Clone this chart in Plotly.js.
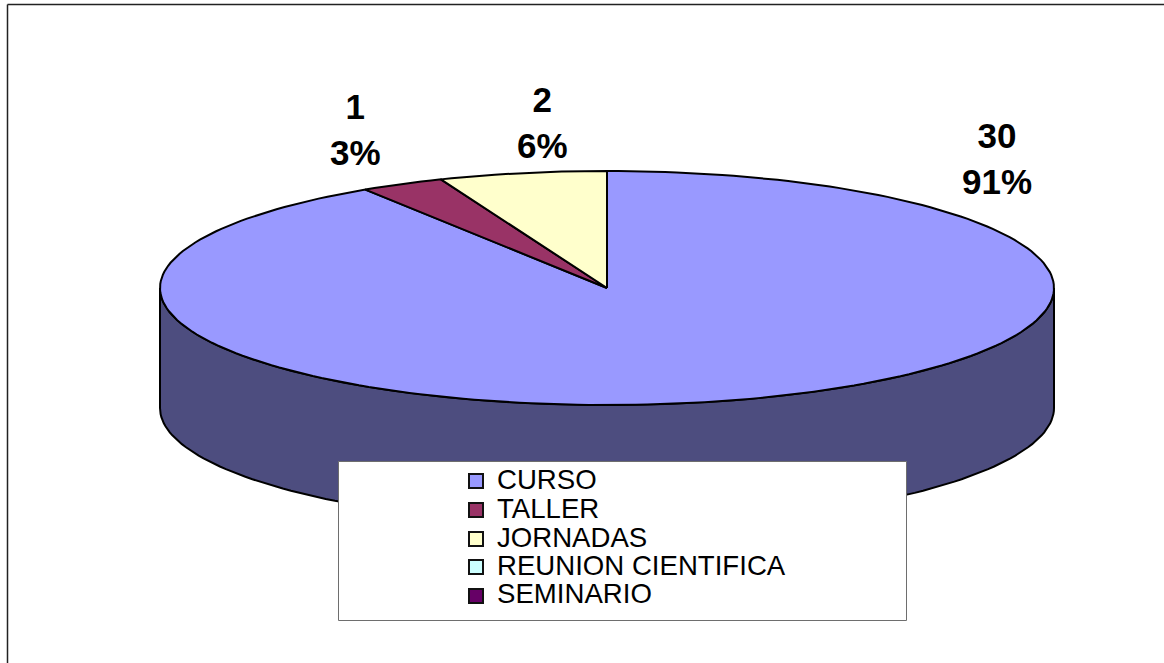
<!DOCTYPE html>
<html>
<head>
<meta charset="utf-8">
<script src="https://cdn.plot.ly/plotly-3.0.1.min.js"></script>
<style>html,body{margin:0;padding:0;background:#fff;overflow:hidden}#chart{width:1164px;height:663px}</style>
</head>
<body>
<div id="chart"></div>
<script>
// Data
const categories = ["CURSO", "TALLER", "JORNADAS", "REUNION CIENTIFICA", "SEMINARIO"];
const values = [30, 1, 2, 0, 0];
const colors = ["#9999FF", "#993366", "#FFFFCC", "#CCFFFF", "#660066"];
const sideColor = "#4D4D7F";

// Geometry of the tilted pie, in pixels of the 1164x663 axes
const cx = 607, cy = 288, rx = 447, ry = 117, depth = 120;
const total = values.reduce((a, b) => a + b, 0);
const pt = (deg, dy = 0) => {
  const a = deg * Math.PI / 180;
  return [cx + rx * Math.sin(a), cy + dy - ry * Math.cos(a)];
};
function arc(from, to, dy = 0) {
  const n = Math.max(2, Math.ceil(Math.abs(to - from) / 1.5));
  const out = [];
  for (let i = 0; i <= n; i++) out.push(pt(from + (to - from) * i / n, dy));
  return out;
}
const blackLine = {color: "#000000", width: 2};
const traces = [];

// Visible wall of the cylinder: front half of the rim
const wall = arc(90, 270).concat(arc(270, 90, depth));
wall.push(wall[0]);
traces.push({
  type: "scatter", mode: "lines", fill: "toself", fillcolor: sideColor,
  x: wall.map(p => p[0]), y: wall.map(p => p[1]),
  line: blackLine, hoverinfo: "skip", showlegend: false
});

// Top-face slices, clockwise from 12 o'clock
let cum = 0;
values.forEach((v, i) => {
  if (v <= 0) return;
  const a0 = cum / total * 360, a1 = (cum + v) / total * 360;
  cum += v;
  const poly = [[cx, cy]].concat(arc(a0, a1), [[cx, cy]]);
  traces.push({
    type: "scatter", mode: "lines", fill: "toself", fillcolor: colors[i],
    x: poly.map(p => p[0]), y: poly.map(p => p[1]),
    line: blackLine, name: categories[i], showlegend: false,
    hovertemplate: categories[i] + ": " + v + "<extra></extra>"
  });
});

// Legend box and its swatches
const box = {x0: 338.5, x1: 906.5, y0: 461.5, y1: 620.5};
traces.push({
  type: "scatter", mode: "lines", fill: "toself", fillcolor: "#FFFFFF",
  x: [box.x0, box.x1, box.x1, box.x0, box.x0],
  y: [box.y0, box.y0, box.y1, box.y1, box.y0],
  line: {color: "#6E6E6E", width: 1}, hoverinfo: "skip", showlegend: false
});
const rowY = [481, 510, 539, 567, 596];
const legendTextY = [479, 508, 537, 565, 593];
const annotations = [];
categories.forEach((c, i) => {
  traces.push({
    type: "scatter", mode: "markers", x: [476], y: [rowY[i]], name: c, showlegend: false,
    marker: {symbol: "square", size: 14, color: colors[i], line: {color: "#111111", width: 2}},
    hoverinfo: "name"
  });
  annotations.push({
    x: 495, y: legendTextY[i], xref: "x", yref: "y", text: c, showarrow: false,
    xanchor: "left", yanchor: "middle",
    font: {family: "Liberation Sans, Arial, sans-serif", size: 27.6, color: "#000000"}
  });
});

// Data labels
const labelPos = [[997, 158], [355, 129], [542, 122]];
values.forEach((v, i) => {
  if (v <= 0) return;
  annotations.push({
    x: labelPos[i][0], y: labelPos[i][1], xref: "x", yref: "y", showarrow: false,
    text: "<b>" + v + "<br>" + Math.round(v / total * 100) + "%</b>",
    xanchor: "center", yanchor: "middle", align: "center",
    font: {family: "Liberation Sans, Arial, sans-serif", size: 35, color: "#000000"}
  });
});

const layout = {
  width: 1164, height: 663,
  margin: {l: 0, r: 0, t: 0, b: 0, pad: 0},
  paper_bgcolor: "#FFFFFF", plot_bgcolor: "#FFFFFF",
  showlegend: false,
  xaxis: {range: [0, 1164], visible: false, fixedrange: true},
  yaxis: {range: [663, 0], visible: false, fixedrange: true},
  annotations,
  shapes: [
    {type: "line", xref: "x", yref: "y", x0: 7.5, y0: 4.5, x1: 7.5, y1: 663, line: {color: "#222222", width: 1.5}},
    {type: "line", xref: "x", yref: "y", x0: 7.5, y0: 4.5, x1: 1164, y1: 4.5, line: {color: "#222222", width: 1.5}}
  ]
};
Plotly.newPlot("chart", traces, layout, {displayModeBar: false, staticPlot: false});
</script>
</body>
</html>
